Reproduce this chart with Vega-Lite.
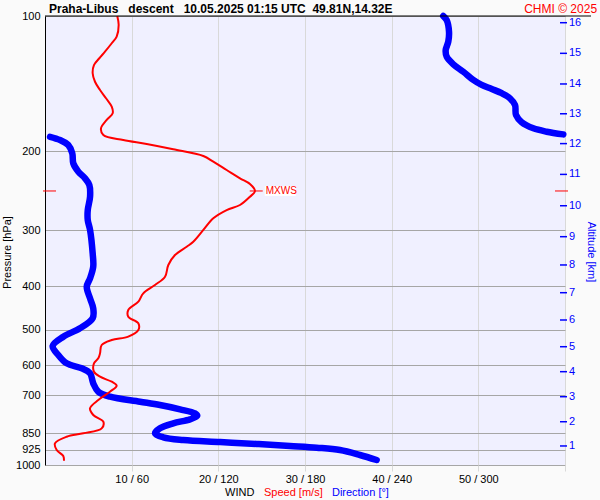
{
  "$schema": "https://vega.github.io/schema/vega-lite/v6.json",
  "width": 520,
  "height": 449,
  "autosize": {"type": "none"},
  "padding": {"left": 45, "top": 16, "right": 35, "bottom": 35},
  "background": "#fafafa",
  "config": {
    "font": "Liberation Sans",
    "view": {"fill": "#f0f0ff", "stroke": null}
  },
  "datasets": {
    "speed": [
      {"p": 100, "speed": 8.34}, {"p": 104.7, "speed": 8.5}, {"p": 111.2, "speed": 8.27}, {"p": 115.0, "speed": 7.7},
      {"p": 120.1, "speed": 6.92}, {"p": 124.2, "speed": 6.27}, {"p": 128.6, "speed": 5.65}, {"p": 134.1, "speed": 5.5},
      {"p": 140.1, "speed": 5.77}, {"p": 146.2, "speed": 6.35}, {"p": 152.5, "speed": 7.04}, {"p": 159.2, "speed": 7.7},
      {"p": 164.7, "speed": 7.81}, {"p": 170.4, "speed": 7.12}, {"p": 177.9, "speed": 6.46}, {"p": 184.1, "speed": 6.73},
      {"p": 188.9, "speed": 9.03}, {"p": 192.8, "speed": 11.73}, {"p": 198.1, "speed": 14.8}, {"p": 205.0, "speed": 18.27},
      {"p": 211.1, "speed": 19.42}, {"p": 220.3, "speed": 20.96}, {"p": 229.9, "speed": 22.5}, {"p": 236.7, "speed": 23.65},
      {"p": 245.3, "speed": 24.23}, {"p": 252.6, "speed": 23.65}, {"p": 263.6, "speed": 22.5}, {"p": 270.5, "speed": 20.96},
      {"p": 282.2, "speed": 19.42}, {"p": 299.6, "speed": 18.27}, {"p": 318.3, "speed": 17.11}, {"p": 326.5, "speed": 16.35},
      {"p": 340.7, "speed": 15.0}, {"p": 358.5, "speed": 14.23}, {"p": 380.7, "speed": 13.85}, {"p": 397.3, "speed": 12.69},
      {"p": 414.6, "speed": 11.34}, {"p": 432.8, "speed": 10.77}, {"p": 451.6, "speed": 9.61}, {"p": 467.4, "speed": 9.61},
      {"p": 483.5, "speed": 10.77}, {"p": 500.4, "speed": 10.77}, {"p": 517.9, "speed": 9.61}, {"p": 526.8, "speed": 7.7},
      {"p": 540.4, "speed": 6.54}, {"p": 564.0, "speed": 6.35}, {"p": 578.7, "speed": 6.15}, {"p": 593.7, "speed": 5.65},
      {"p": 619.8, "speed": 5.65}, {"p": 635.9, "speed": 6.35}, {"p": 652.4, "speed": 7.7}, {"p": 665.9, "speed": 8.27},
      {"p": 686.7, "speed": 7.5}, {"p": 716.6, "speed": 6.15}, {"p": 747.8, "speed": 5.19}, {"p": 773.9, "speed": 5.57},
      {"p": 801.0, "speed": 6.73}, {"p": 828.6, "speed": 6.54}, {"p": 850.1, "speed": 4.42}, {"p": 865.0, "speed": 2.5},
      {"p": 894.7, "speed": 1.15}, {"p": 926.0, "speed": 1.35}, {"p": 955.0, "speed": 2.11}, {"p": 978.2, "speed": 2.19}
    ],
    "direction": [
      {"seg": "a", "p": 100, "dir": 275.7}, {"seg": "a", "p": 102.1, "dir": 278.1}, {"seg": "a", "p": 108.4, "dir": 279.7},
      {"seg": "a", "p": 114.1, "dir": 279.2}, {"seg": "a", "p": 119.1, "dir": 277.4}, {"seg": "a", "p": 123.2, "dir": 278.1},
      {"seg": "a", "p": 128.1, "dir": 282.7}, {"seg": "a", "p": 133.1, "dir": 289.6}, {"seg": "a", "p": 138.8, "dir": 296.5},
      {"seg": "a", "p": 142.4, "dir": 302.3}, {"seg": "a", "p": 145.4, "dir": 309.3}, {"seg": "a", "p": 148.6, "dir": 316.2},
      {"seg": "a", "p": 152.5, "dir": 321.9}, {"seg": "a", "p": 157.8, "dir": 325.4}, {"seg": "a", "p": 166.2, "dir": 326.1},
      {"seg": "a", "p": 172.4, "dir": 330.0}, {"seg": "a", "p": 177.9, "dir": 338.1}, {"seg": "a", "p": 181.0, "dir": 347.3},
      {"seg": "a", "p": 183.5, "dir": 358.8},
      {"seg": "b", "p": 185.8, "dir": 3.5}, {"seg": "b", "p": 188.9, "dir": 10.4}, {"seg": "b", "p": 193.8, "dir": 16.1},
      {"seg": "b", "p": 202.2, "dir": 18.9}, {"seg": "b", "p": 212.9, "dir": 19.6}, {"seg": "b", "p": 222.2, "dir": 23.1},
      {"seg": "b", "p": 229.9, "dir": 27.7}, {"seg": "b", "p": 237.9, "dir": 30.7}, {"seg": "b", "p": 252.6, "dir": 31.2},
      {"seg": "b", "p": 270.5, "dir": 29.6}, {"seg": "b", "p": 284.7, "dir": 29.6}, {"seg": "b", "p": 299.6, "dir": 31.2},
      {"seg": "b", "p": 337.7, "dir": 33.0}, {"seg": "b", "p": 361.6, "dir": 33.4}, {"seg": "b", "p": 383.9, "dir": 31.2},
      {"seg": "b", "p": 400.7, "dir": 28.9}, {"seg": "b", "p": 425.5, "dir": 31.2}, {"seg": "b", "p": 447.7, "dir": 33.4},
      {"seg": "b", "p": 471.3, "dir": 33.0}, {"seg": "b", "p": 496.1, "dir": 24.2}, {"seg": "b", "p": 517.9, "dir": 12.7},
      {"seg": "b", "p": 543.2, "dir": 5.3}, {"seg": "b", "p": 568.9, "dir": 9.2}, {"seg": "b", "p": 593.7, "dir": 15.0},
      {"seg": "b", "p": 609.1, "dir": 25.4}, {"seg": "b", "p": 625.0, "dir": 31.2}, {"seg": "b", "p": 657.7, "dir": 33.4},
      {"seg": "b", "p": 686.7, "dir": 36.9}, {"seg": "b", "p": 704.6, "dir": 45.0}, {"seg": "b", "p": 722.8, "dir": 65.8},
      {"seg": "b", "p": 735.3, "dir": 79.6}, {"seg": "b", "p": 751.6, "dir": 93.5}, {"seg": "b", "p": 767.3, "dir": 103.8},
      {"seg": "b", "p": 776.8, "dir": 105.4}, {"seg": "b", "p": 791.2, "dir": 100.4}, {"seg": "b", "p": 807.6, "dir": 88.8},
      {"seg": "b", "p": 828.6, "dir": 79.6}, {"seg": "b", "p": 850.1, "dir": 76.2}, {"seg": "b", "p": 867.6, "dir": 81.9},
      {"seg": "b", "p": 879.7, "dir": 95.7}, {"seg": "b", "p": 888.8, "dir": 121.2}, {"seg": "b", "p": 897.9, "dir": 146.6},
      {"seg": "b", "p": 907.2, "dir": 169.6}, {"seg": "b", "p": 915.1, "dir": 188.1}, {"seg": "b", "p": 926.0, "dir": 204.2},
      {"seg": "b", "p": 950.0, "dir": 218.1}, {"seg": "b", "p": 974.7, "dir": 229.6}
    ],
    "altitude": [
      {"alt": 1, "p": 907}, {"alt": 2, "p": 801}, {"alt": 3, "p": 704.5}, {"alt": 4, "p": 619.7},
      {"alt": 5, "p": 545.2}, {"alt": 6, "p": 475.4}, {"alt": 7, "p": 413.3}, {"alt": 8, "p": 358.5},
      {"alt": 9, "p": 310.1}, {"alt": 10, "p": 264.6}, {"alt": 11, "p": 225.3}, {"alt": 12, "p": 192.4},
      {"alt": 13, "p": 165.1}, {"alt": 14, "p": 141.7}, {"alt": 15, "p": 121.1}, {"alt": 16, "p": 103.5}
    ],
    "mxws": [{"p": 245.3, "speed": 24.2}],
    "one": [{}]
  },
  "resolve": {"scale": {"x": "independent"}, "axis": {"x": "independent"}},
  "layer": [
    {
      "data": {"name": "speed"},
      "mark": {"type": "line", "color": "#ff0000", "strokeWidth": 0, "opacity": 0},
      "encoding": {
        "x": {"field": "speed", "type": "quantitative", "scale": {"domain": [0, 60], "nice": false, "zero": false},
          "axis": {"values": [10, 20, 30, 40, 50, 60], "labelExpr": "datum.value < 60 ? datum.value + ' / ' + (datum.value * 6) : ''",
            "grid": true, "gridColor": "#d9d9d9", "tickColor": "#d9d9d9", "tickSize": 6, "domain": false, "title": null,
            "labelFontSize": 11, "labelColor": "#000000", "labelPadding": 2}},
        "y": {"field": "p", "type": "quantitative", "scale": {"type": "log", "domain": [100, 1000], "reverse": true, "nice": false},
          "axis": {"values": [100, 200, 300, 400, 500, 600, 700, 850, 925, 1000], "format": "d", "grid": true, "gridColor": "#a6a6a6",
            "ticks": false, "domainColor": "#000000", "labelFontSize": 11, "labelColor": "#000000", "labelPadding": 5,
            "title": "Pressure [hPa]", "titleFontSize": 11, "titleFontWeight": "normal", "titleColor": "#000000",
            "titleAngle": 270, "titleAlign": "center", "titleBaseline": "middle", "titleX": -38, "titleY": 236}},
        "order": {"field": "p", "type": "quantitative"}
      }
    },
    {
      "data": {"name": "direction"},
      "mark": {"type": "line", "color": "#0000ff", "strokeWidth": 6.5, "strokeCap": "round", "strokeJoin": "round", "interpolate": "catmull-rom"},
      "encoding": {
        "x": {"field": "dir", "type": "quantitative", "scale": {"domain": [0, 360], "nice": false, "zero": false}, "axis": null},
        "y": {"field": "p", "type": "quantitative", "scale": {"type": "log", "domain": [100, 1000], "reverse": true, "nice": false}},
        "detail": {"field": "seg"},
        "order": {"field": "p", "type": "quantitative"}
      }
    },
    {
      "data": {"name": "speed"},
      "mark": {"type": "line", "color": "#ff0000", "strokeWidth": 2, "interpolate": "catmull-rom"},
      "encoding": {
        "x": {"field": "speed", "type": "quantitative", "scale": {"domain": [0, 60], "nice": false, "zero": false}, "axis": null},
        "y": {"field": "p", "type": "quantitative", "scale": {"type": "log", "domain": [100, 1000], "reverse": true, "nice": false}},
        "order": {"field": "p", "type": "quantitative"}
      }
    },
    {
      "data": {"name": "mxws"},
      "mark": {"type": "rect", "color": "#ffffff", "xOffset": 10, "x2Offset": 41, "yOffset": -5, "y2Offset": 5},
      "encoding": {
        "x": {"field": "speed", "type": "quantitative", "scale": {"domain": [0, 60], "nice": false, "zero": false}, "axis": null},
        "x2": {"field": "speed"},
        "y": {"field": "p", "type": "quantitative", "scale": {"type": "log", "domain": [100, 1000], "reverse": true, "nice": false}},
        "y2": {"field": "p"}
      }
    },
    {
      "data": {"name": "mxws"},
      "mark": {"type": "rule", "color": "#ff0000", "strokeWidth": 1, "xOffset": -5, "x2Offset": 8},
      "encoding": {
        "x": {"field": "speed", "type": "quantitative", "scale": {"domain": [0, 60], "nice": false, "zero": false}, "axis": null},
        "x2": {"field": "speed"},
        "y": {"field": "p", "type": "quantitative", "scale": {"type": "log", "domain": [100, 1000], "reverse": true, "nice": false}}
      }
    },
    {
      "data": {"name": "mxws"},
      "mark": {"type": "text", "color": "#ff0000", "fontSize": 10, "align": "left", "baseline": "middle", "dx": 11, "text": "MXWS"},
      "encoding": {
        "x": {"field": "speed", "type": "quantitative", "scale": {"domain": [0, 60], "nice": false, "zero": false}, "axis": null},
        "y": {"field": "p", "type": "quantitative", "scale": {"type": "log", "domain": [100, 1000], "reverse": true, "nice": false}}
      }
    },
    {
      "data": {"name": "mxws"},
      "mark": {"type": "rule", "color": "#ff0000", "strokeWidth": 1, "xOffset": -2, "x2Offset": 11, "clip": false},
      "encoding": {
        "x": {"datum": 0, "type": "quantitative", "scale": {"domain": [0, 60], "nice": false, "zero": false}, "axis": null},
        "x2": {"datum": 0},
        "y": {"field": "p", "type": "quantitative", "scale": {"type": "log", "domain": [100, 1000], "reverse": true, "nice": false}}
      }
    },
    {
      "data": {"name": "mxws"},
      "mark": {"type": "rule", "color": "#ff0000", "strokeWidth": 1, "xOffset": -10, "x2Offset": 3, "clip": false},
      "encoding": {
        "x": {"datum": 60, "type": "quantitative", "scale": {"domain": [0, 60], "nice": false, "zero": false}, "axis": null},
        "x2": {"datum": 60},
        "y": {"field": "p", "type": "quantitative", "scale": {"type": "log", "domain": [100, 1000], "reverse": true, "nice": false}}
      }
    },
    {
      "data": {"name": "altitude"},
      "mark": {"type": "rule", "color": "#0000ff", "strokeWidth": 1.5, "xOffset": -5, "x2Offset": 2, "clip": false},
      "encoding": {
        "x": {"datum": 60, "type": "quantitative", "scale": {"domain": [0, 60], "nice": false, "zero": false}, "axis": null},
        "x2": {"datum": 60},
        "y": {"field": "p", "type": "quantitative", "scale": {"type": "log", "domain": [100, 1000], "reverse": true, "nice": false}}
      }
    },
    {
      "data": {"name": "altitude"},
      "mark": {"type": "text", "color": "#0000ff", "fontSize": 11, "align": "left", "baseline": "middle", "dx": 4, "clip": false},
      "encoding": {
        "x": {"datum": 60, "type": "quantitative", "scale": {"domain": [0, 60], "nice": false, "zero": false}, "axis": null},
        "y": {"field": "p", "type": "quantitative", "scale": {"type": "log", "domain": [100, 1000], "reverse": true, "nice": false}},
        "text": {"field": "alt", "type": "quantitative"}
      }
    },
    {
      "data": {"name": "one"},
      "mark": {"type": "rule", "color": "#000000", "strokeWidth": 1, "clip": false},
      "encoding": {
        "x": {"datum": 0, "type": "quantitative", "scale": {"domain": [0, 60], "nice": false, "zero": false}, "axis": null},
        "x2": {"datum": 63.0},
        "y": {"datum": 100, "type": "quantitative", "scale": {"type": "log", "domain": [100, 1000], "reverse": true, "nice": false}}
      }
    },
    {
      "data": {"name": "one"},
      "mark": {"type": "text", "color": "#0000ff", "fontSize": 11, "align": "center", "baseline": "middle", "angle": 90, "clip": false, "text": "Altitude [km]"},
      "encoding": {
        "x": {"datum": 63.0, "type": "quantitative", "scale": {"domain": [0, 60], "nice": false, "zero": false}, "axis": null},
        "y": {"datum": 335.5, "type": "quantitative", "scale": {"type": "log", "domain": [100, 1000], "reverse": true, "nice": false}}
      }
    },
    {
      "data": {"name": "one"},
      "mark": {"type": "text", "color": "#000000", "fontSize": 12, "fontWeight": "bold", "align": "left", "baseline": "alphabetic", "clip": false,
        "text": "Praha-Libus\u00a0\u00a0\u00a0descent\u00a0\u00a0\u00a010.05.2025 01:15 UTC\u00a0\u00a049.81N,14.32E"},
      "encoding": {
        "x": {"datum": 0.46, "type": "quantitative", "scale": {"domain": [0, 60], "nice": false, "zero": false}, "axis": null},
        "y": {"datum": 98.5, "type": "quantitative", "scale": {"type": "log", "domain": [100, 1000], "reverse": true, "nice": false}}
      }
    },
    {
      "data": {"name": "one"},
      "mark": {"type": "text", "color": "#ff0000", "fontSize": 12, "align": "right", "baseline": "alphabetic", "clip": false, "text": "CHMI © 2025"},
      "encoding": {
        "x": {"datum": 63.7, "type": "quantitative", "scale": {"domain": [0, 60], "nice": false, "zero": false}, "axis": null},
        "y": {"datum": 98.5, "type": "quantitative", "scale": {"type": "log", "domain": [100, 1000], "reverse": true, "nice": false}}
      }
    },
    {
      "data": {"name": "one"},
      "mark": {"type": "text", "color": "#000000", "fontSize": 11, "align": "left", "baseline": "middle", "clip": false, "text": "WIND"},
      "encoding": {
        "x": {"datum": 20.77, "type": "quantitative", "scale": {"domain": [0, 60], "nice": false, "zero": false}, "axis": null},
        "y": {"datum": 1151.6, "type": "quantitative", "scale": {"type": "log", "domain": [100, 1000], "reverse": true, "nice": false}}
      }
    },
    {
      "data": {"name": "one"},
      "mark": {"type": "text", "color": "#ff0000", "fontSize": 11, "align": "left", "baseline": "middle", "clip": false, "text": "Speed [m/s]"},
      "encoding": {
        "x": {"datum": 25.27, "type": "quantitative", "scale": {"domain": [0, 60], "nice": false, "zero": false}, "axis": null},
        "y": {"datum": 1151.6, "type": "quantitative", "scale": {"type": "log", "domain": [100, 1000], "reverse": true, "nice": false}}
      }
    },
    {
      "data": {"name": "one"},
      "mark": {"type": "text", "color": "#0000ff", "fontSize": 11, "align": "left", "baseline": "middle", "clip": false, "text": "Direction [°]"},
      "encoding": {
        "x": {"datum": 33.11, "type": "quantitative", "scale": {"domain": [0, 60], "nice": false, "zero": false}, "axis": null},
        "y": {"datum": 1151.6, "type": "quantitative", "scale": {"type": "log", "domain": [100, 1000], "reverse": true, "nice": false}}
      }
    }
  ]
}
